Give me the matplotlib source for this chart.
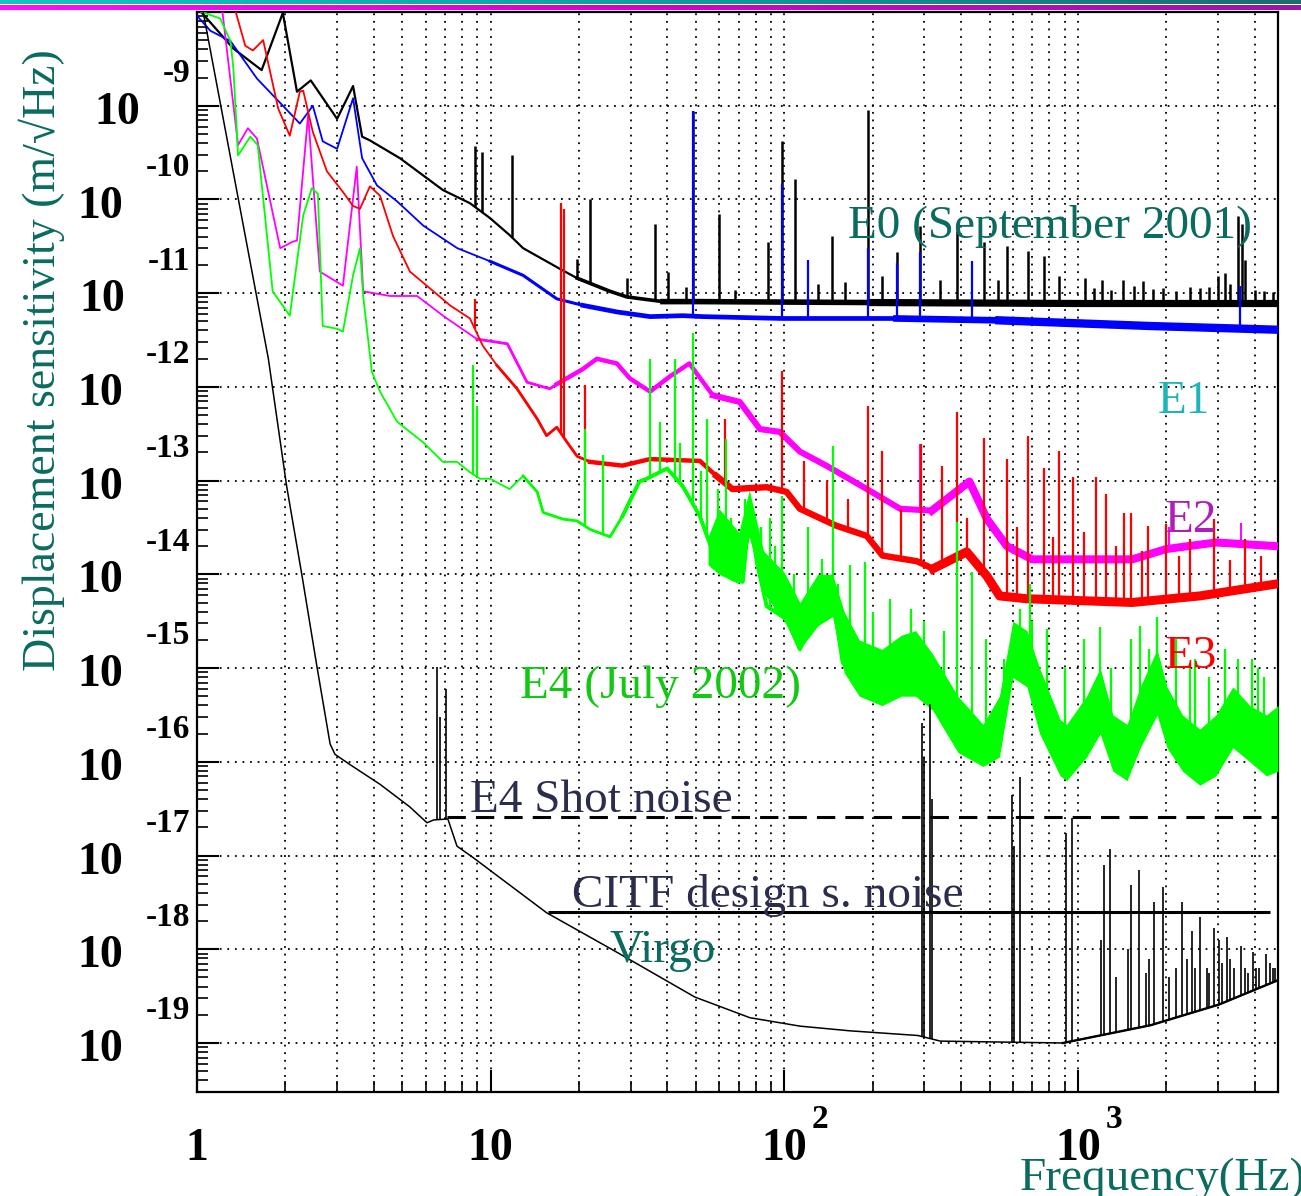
import numpy as np
import matplotlib.pyplot as plt
from matplotlib.colors import LinearSegmentedColormap
from matplotlib.ticker import LogLocator, NullFormatter

plt.rcParams['font.family'] = ['Liberation Serif', 'DejaVu Serif']

# frequencies in Hz, levels given as log10 of the displacement (m/sqrt(Hz))
virgo_f = [1.0, 1.75, 2.02, 2.28, 2.56, 2.84, 2.95, 3.32, 4.2, 5.3, 6.07, 6.4, 7.15, 7.68, 8.7,
           15.5, 26.5, 49.6, 76.3, 113, 167, 285, 340, 889, 1770, 3020, 4800]
virgo_lg = [-7.65, -11.70, -13.06, -14.02, -14.98, -15.81, -15.92, -16.03, -16.24, -16.48, -16.65,
            -16.62, -16.61, -16.90, -17.02, -17.61, -18.02, -18.51, -18.73, -18.82, -18.87, -18.92,
            -18.98, -19.0, -18.81, -18.59, -18.33]
virgo_spike_f = [6.56, 6.7, 7.05, 294, 300, 313, 318, 595, 604, 634, 910, 953, 1200, 1225, 1290,
                 1480, 1515, 1610, 1750, 1820, 1945, 2150, 2255, 2350, 2440, 2600, 2750, 2900,
                 3020, 3100, 3230, 3400, 3590, 3800, 3940, 4150, 4370, 4600, 1350, 1700, 2050,
                 2500, 2800, 3300, 3700, 4050, 4500, 4700]
virgo_spike_lg = [-14.99, -15.52, -15.22, -15.59, -15.95, -15.38, -16.4, -16.35, -16.9, -16.16,
                  -16.76, -16.60, -17.9, -17.10, -16.93, -18.0, -17.31, -17.15, -18.1, -17.50,
                  -17.34, -18.2, -17.50, -18.1, -17.81, -17.66, -18.2, -17.77, -17.90, -18.15,
                  -17.87, -18.2, -17.97, -18.25, -18.03, -18.2, -18.05, -18.2, -18.3, -18.25,
                  -18.3, -18.2, -18.25, -18.1, -18.2, -18.2, -18.15, -18.2]

e0_f = [1.0, 1.33, 1.66, 1.96, 2.19, 2.44, 3.0, 3.4, 3.65, 3.88, 4.91, 6.88, 8.5, 9.96, 11.6,
        12.9, 17.2, 19.7, 25.5, 29.1, 38.6, 51.6, 200, 1000, 4800]
e0_lg = [-7.95, -8.39, -8.62, -8.01, -8.85, -8.73, -9.14, -8.79, -9.33, -9.37, -9.56, -9.90,
         -10.04, -10.20, -10.38, -10.52, -10.74, -10.84, -10.98, -11.04, -11.09, -11.09, -11.10,
         -11.11, -11.11]
e0_spike_f = [8.85, 9.34, 11.8, 19.7, 21.8, 29.1, 36.3, 40.1, 46.3, 48.8, 59.9, 67.9, 87.9, 98.1,
              109, 130, 145, 161, 193, 215, 242, 290, 339, 387, 479, 534, 573, 675, 765, 861,
              1055, 1205, 1422, 1663, 2404, 2993, 3162, 3500, 3610, 3700,
              1130, 1300, 1550, 1800, 1950, 2150, 2600, 2800, 3300, 4000, 4300, 4600]
e0_spike_lg = [-9.43, -9.49, -9.53, -10.63, -9.99, -10.84, -10.26, -10.77, -10.93, -9.06, -10.15,
               -10.97, -10.45, -9.38, -9.78, -10.90, -10.39, -10.88, -9.05, -10.82, -10.56,
               -10.28, -10.86, -10.34, -10.45, -10.86, -10.50, -10.55, -10.60, -10.82, -10.84,
               -10.86, -10.86, -10.87, -10.93, -10.82, -10.79, -10.18, -10.26, -10.65,
               -10.95, -10.97, -10.92, -10.96, -10.94, -10.98, -10.95, -10.93, -10.90, -10.97,
               -10.98, -10.99]

e1_f = [1.0, 1.11, 1.30, 1.60, 2.24, 2.48, 2.68, 3.0, 3.40, 3.65, 4.1, 4.8, 5.9, 7.7, 9.96, 12.9,
        16.8, 20.6, 26.9, 34.9, 45.1, 52.8, 98.6, 241, 540, 1750, 4800]
e1_lg = [-8.04, -8.20, -8.31, -8.71, -9.19, -9.00, -9.38, -9.46, -8.92, -9.56, -9.85, -10.02,
         -10.28, -10.52, -10.66, -10.81, -11.06, -11.13, -11.20, -11.25, -11.24, -11.25, -11.27,
         -11.27, -11.29, -11.35, -11.39]
e1_spike_f = [48.8, 98.1, 120, 193, 242, 290, 435, 3550]
e1_spike_lg = [-9.06, -9.83, -10.65, -10.52, -10.68, -10.56, -10.66, -10.92]

e2_f = [1.2, 1.38, 1.49, 1.60, 1.92, 2.12, 2.19, 2.39, 2.62, 3.14, 3.50, 3.68, 4.54, 5.62, 6.88,
        8.98, 11.4, 13.3, 15.9, 16.8, 20.6, 23.0, 26.9, 29.8, 34.9, 40.7, 47.5, 57.1, 70.5, 82.6,
        96.5, 113, 139, 191, 248, 318, 427, 490, 573, 699, 1530, 2000, 2950, 4800]
e2_lg = [-7.8, -9.42, -9.24, -9.35, -10.52, -10.45, -10.44, -9.10, -10.77, -10.92, -9.65, -10.98,
         -11.03, -11.03, -11.24, -11.49, -11.54, -11.95, -12.02, -11.97, -11.81, -11.70, -11.75,
         -11.91, -12.05, -11.89, -11.75, -12.09, -12.16, -12.45, -12.48, -12.69, -12.84, -13.09,
         -13.30, -13.32, -13.01, -13.41, -13.70, -13.84, -13.84, -13.73, -13.66, -13.70]
e2_spike_f = [290, 2050, 3600]
e2_spike_lg = [-12.61, -13.5, -13.45]

e3_f = [1.3, 1.46, 1.55, 1.68, 1.89, 2.07, 2.24, 2.30, 2.48, 2.77, 3.14, 3.40, 3.59, 3.88, 4.20,
        4.65, 5.31, 6.22, 7.27, 8.5, 9.4, 10.5, 12.3, 14.4, 15.5, 16.8, 18.2, 19.7, 21.8, 28.1,
        34.9, 51.6, 58.7, 66.6, 87.1, 101.8, 113, 150, 191, 216, 283, 321, 418, 490, 541, 668,
        1530, 2600, 4800]
e3_lg = [-7.8, -8.36, -8.41, -8.30, -9.03, -9.32, -8.85, -8.84, -9.28, -9.70, -9.92, -10.07,
         -10.10, -9.86, -9.96, -10.39, -10.77, -10.95, -11.13, -11.27, -11.56, -11.77, -12.02,
         -12.34, -12.52, -12.43, -12.59, -12.74, -12.80, -12.84, -12.77, -12.79, -12.95, -13.09,
         -13.07, -13.12, -13.30, -13.48, -13.59, -13.80, -13.86, -13.94, -13.76, -14.02, -14.23,
         -14.26, -14.30, -14.23, -14.10]
e3_spike_f = [8.85, 17.3, 17.8, 20.9, 62.8, 98, 117, 193, 215, 292, 344, 387, 480, 573, 676, 765,
              861, 960, 1150, 1245, 1440, 1520, 1730, 2000, 2400, 2900, 3700,
              140, 165, 250, 420, 620, 820, 1050, 1350, 1650, 2200, 3300, 4200]
e3_spike_lg = [-11.06, -10.04, -10.1, -11.98, -12.34, -11.83, -12.79, -12.20, -12.68, -12.61,
               -12.84, -12.27, -12.55, -12.77, -12.52, -12.87, -12.68, -12.96, -12.96, -13.14,
               -13.35, -13.35, -13.48, -13.46, -13.62, -13.41, -13.62,
               -13.0, -13.2, -13.3, -13.4, -13.5, -13.6, -13.55, -13.7, -13.75, -13.8, -13.85,
               -13.8]

e4_f = [1.02, 1.20, 1.30, 1.33, 1.38, 1.52, 1.61, 1.81, 2.07, 2.30, 2.46, 2.58, 2.68, 3.0, 3.14,
        3.40, 3.59, 3.68, 3.94, 4.2, 4.8, 5.31, 5.88, 6.88, 7.68, 8.5, 9.2, 9.96, 11.6, 12.9,
        14.4, 15.1, 17.6, 19.7, 21.8, 25.5, 28.1, 32.1, 34.0, 39.9, 45.1, 51.6, 58.7, 66.6, 72.2,
        76.3, 80.6, 87.1, 101.8, 113, 129, 146, 158, 181, 216, 248, 282, 318, 387, 475, 541, 596,
        668, 740, 867, 915, 1070, 1190, 1315, 1470, 1630, 1860, 2010, 2270, 2600, 2950, 3370,
        3850, 4380, 4800]
e4_lg = [-7.99, -8.07, -8.31, -8.60, -9.53, -9.33, -9.42, -10.98, -11.24, -10.17, -9.88, -9.94,
         -11.35, -11.38, -11.41, -10.81, -10.52, -11.03, -11.84, -12.05, -12.37, -12.48, -12.59,
         -12.80, -12.80, -12.91, -12.98, -12.98, -13.09, -12.95, -13.12, -13.34, -13.41, -13.43,
         -13.52, -13.60, -13.38, -13.01, -12.98, -12.87, -13.06, -13.38, -13.87, -14.05, -14.08,
         -13.30, -13.87, -14.34, -14.48, -14.80, -14.40, -14.23, -14.94, -15.23, -15.30, -15.12,
         -15.12, -15.30, -15.76, -15.98, -15.83, -14.76, -14.94, -15.47, -16.01, -16.15, -15.83,
         -15.47, -16.01, -16.11, -15.65, -15.12, -15.65, -16.01, -16.11, -16.01, -15.65, -15.83,
         -16.01, -15.97]
# upper / lower edge of the dense E4 noise band above ~55 Hz
e4_band_f = [55, 60, 70, 76, 85, 100, 113, 130, 146, 160, 180, 215, 250, 280, 320, 390, 475, 540,
             600, 670, 740, 870, 915, 1070, 1190, 1315, 1470, 1630, 1860, 2010, 2270, 2600, 2950,
             3370, 3850, 4380, 4800]
e4_band_hi = [-13.6, -13.3, -13.55, -13.1, -13.75, -13.98, -14.3, -14.0, -14.0, -14.4,
              -14.7, -14.8, -14.65, -14.6, -14.85, -15.3, -15.6, -15.3, -14.5, -14.6,
              -15.0, -15.55, -15.6, -15.3, -15.0, -15.5, -15.6, -15.2, -14.8, -15.2,
              -15.5, -15.65, -15.5, -15.2, -15.4, -15.5, -15.4]
e4_band_lo = [-13.9, -14.0, -14.1, -13.6, -14.2, -14.5, -14.8, -14.55, -14.45, -15.05,
              -15.3, -15.4, -15.3, -15.3, -15.45, -15.9, -16.05, -15.95, -15.1, -15.2,
              -15.7, -16.15, -16.2, -15.95, -15.7, -16.1, -16.2, -15.85, -15.5, -15.85,
              -16.1, -16.25, -16.15, -15.85, -16.0, -16.15, -16.1]
e4_spike_f = [8.7, 9.0, 20.9, 24.1, 34.9, 37.7, 42.4, 48.8, 54.5, 83, 98.1, 146, 189, 387, 435,
              685, 1190, 1630, 1860, 3900,
              59.4, 63.5, 73.5, 89.5, 120, 134, 167, 229, 270, 485, 633, 785, 1050, 1510, 2150,
              2500, 3160, 4300, 44, 52, 66, 78, 93, 108, 152, 200, 300, 350, 560, 700, 900, 1300,
              1750, 2400, 2800, 3500, 4100]
e4_spike_lg = [-11.77, -12.2, -12.45, -12.73, -11.70, -12.37, -11.70, -11.43, -12.34, -13.5,
               -13.16, -12.63, -13.87, -13.44, -13.98, -14.10, -14.56, -14.55, -14.45, -14.90,
               -13.09, -12.56, -13.2, -13.4, -13.5, -13.84, -13.9, -14.26, -14.37, -14.69,
               -14.37, -14.58, -14.69, -14.69, -14.69, -14.9, -14.8, -15.1, -12.6, -12.9,
               -13.4, -13.5, -13.7, -14.0, -14.1, -14.4, -14.5, -14.6, -14.9, -14.5, -15.0,
               -15.0, -14.8, -15.0, -15.1, -14.9, -15.0]

# reference noise levels
shot_noise = 2.55e-17
shot_noise_f = (7.1, 4800)
citf_noise = 2.47e-18
citf_noise_f = (15.7, 4500)

y_exps = list(range(-9, -20, -1))
x_decades = [1, 10, 100, 1000]


def draw_curve(ax, f, lg, color, widths, z):
    # the traces get thicker (noisier) towards high frequency
    f = np.asarray(f)
    a = 10.0 ** np.asarray(lg)
    for f_from, lw in widths:
        k = max(np.searchsorted(f, f_from) - 1, 0)
        ax.plot(f[k:], a[k:], color=color, lw=lw, zorder=z)


def draw_spikes(ax, f, lg, sf, slg, color, lw, z):
    base = np.interp(np.log10(sf), np.log10(f), lg)
    ax.vlines(sf, 10.0 ** base, 10.0 ** np.asarray(slg), color=color, lw=lw, zorder=z)


fig = plt.figure(figsize=(13.01, 11.96), dpi=100)
ax = fig.add_axes([197 / 1301, 1 - 1092 / 1196, 1081 / 1301, 1080 / 1196])
ax.set_xscale('log')
ax.set_yscale('log')
ax.set_xlim(1, 4800)
ax.set_ylim(3e-20, 1e-8)

# slide header bars
for y0, h, cols in [(1 - 4 / 1196, 4 / 1196, ['#10c8c0', '#0aa0a0', '#1a6e6e']),
                    (1 - 10 / 1196, 5 / 1196, ['#ff10ff', '#d000d0', '#9818a8'])]:
    bar = fig.add_axes([0, y0, 1, h])
    bar.imshow(np.linspace(0, 1, 256)[None, :], aspect='auto',
               cmap=LinearSegmentedColormap.from_list('bar', cols))
    bar.set_axis_off()

draw_curve(ax, e0_f, e0_lg, 'black', [(1, 1.6), (20, 2.6), (40, 4.0), (300, 5.2)], 3)
draw_spikes(ax, e0_f, e0_lg, e0_spike_f, e0_spike_lg, 'black', 1.8, 3)
draw_curve(ax, e1_f, e1_lg, '#0000ff', [(1, 1.3), (12, 2.2), (25, 3.4), (300, 4.8), (1500, 6.0)], 4)
draw_spikes(ax, e1_f, e1_lg, e1_spike_f, e1_spike_lg, '#0000ff', 1.6, 4)
draw_curve(ax, e2_f, e2_lg, '#ff00ff', [(1, 1.3), (10, 2.0), (20, 3.2), (60, 4.4), (400, 5.8)], 5)
draw_spikes(ax, e2_f, e2_lg, e2_spike_f, e2_spike_lg, '#ff00ff', 1.4, 5)
draw_curve(ax, e3_f, e3_lg, '#ff0000', [(1, 1.3), (12, 2.0), (22, 3.2), (60, 4.6), (400, 6.5)], 6)
draw_spikes(ax, e3_f, e3_lg, e3_spike_f, e3_spike_lg, '#ff0000', 1.6, 6)
draw_curve(ax, e4_f, e4_lg, '#00ff00', [(1, 1.3), (14, 2.0), (30, 2.8)], 7)
ax.fill_between(e4_band_f, 10.0 ** np.asarray(e4_band_lo), 10.0 ** np.asarray(e4_band_hi),
                color='#00ff00', lw=0, zorder=7)
draw_spikes(ax, e4_f, e4_lg, e4_spike_f, e4_spike_lg, '#00ff00', 1.6, 7)
draw_curve(ax, virgo_f, virgo_lg, 'black', [(1, 1.1), (900, 1.7)], 8)
draw_spikes(ax, virgo_f, virgo_lg, virgo_spike_f, virgo_spike_lg, 'black', 1.2, 8)

ax.hlines(shot_noise, *shot_noise_f, color='black', lw=2.2, linestyles=(0, (6, 3.3)), zorder=9)
ax.hlines(citf_noise, *citf_noise_f, color='black', lw=2.2, zorder=9)

# frame, ticks and dotted grid in the ROOT style
for s in ax.spines.values():
    s.set_linewidth(1.6)
ax.xaxis.set_major_locator(LogLocator(base=10, numticks=20))
ax.xaxis.set_minor_locator(LogLocator(base=10, subs=np.arange(2, 10), numticks=40))
ax.yaxis.set_major_locator(LogLocator(base=10, numticks=30))
ax.yaxis.set_minor_locator(LogLocator(base=10, subs=np.arange(2, 10), numticks=60))
for axis in (ax.xaxis, ax.yaxis):
    axis.set_major_formatter(NullFormatter())
    axis.set_minor_formatter(NullFormatter())
ax.tick_params(which='major', direction='in', length=16, width=1.5, top=False, right=False)
ax.tick_params(which='minor', direction='in', length=8, width=1.2, top=False, right=False)
ax.set_axisbelow(True)
ax.grid(which='major', color='black', lw=1.3, ls=(0, (1, 3.2)))
ax.grid(which='minor', axis='x', color='black', lw=1.3, ls=(0, (1, 3.2)))

# tick labels drawn as "10" plus a raised exponent
for e in y_exps:
    t = ax.annotate(f'-{abs(e)}', xy=(0, 10.0 ** e), xycoords=('axes fraction', 'data'),
                    xytext=(-5, 17), textcoords='offset points', ha='right', va='baseline',
                    fontsize=24, fontweight='bold', annotation_clip=False)
    ax.annotate('10', xy=(0, 0), xycoords=t, xytext=(-16, -25), textcoords='offset points',
                ha='right', va='baseline', fontsize=33, fontweight='bold')
for d in x_decades:
    base_txt = '1' if d == 1 else '10'
    ax.annotate(base_txt, xy=(d, 0), xycoords=('data', 'axes fraction'), xytext=(0, -49),
                textcoords='offset points', ha='center', va='baseline',
                fontsize=33, fontweight='bold', annotation_clip=False)
    if d >= 100:
        ax.annotate(str(int(np.log10(d))), xy=(d, 0), xycoords=('data', 'axes fraction'),
                    xytext=(20, -26), textcoords='offset points', ha='left', va='baseline',
                    fontsize=24, fontweight='bold', annotation_clip=False)

teal = '#0b6b5f'
navy = '#2b2d4f'
labels = [('E0 (September 2001)', 0.6022, 0.7907, teal),
          ('E1', 0.889, 0.6287, '#1fb4b8'),
          ('E2', 0.8955, 0.5185, '#b01eb8'),
          ('E3', 0.8955, 0.3926, '#ff0000'),
          ('E4 (July 2002)', 0.2988, 0.3648, '#12c812'),
          ('E4 Shot noise', 0.2525, 0.2593, navy),
          ('CITF design s. noise', 0.3469, 0.1713, navy),
          ('Virgo', 0.382, 0.1204, teal)]
for txt, x, y, c in labels:
    ax.text(x, y, txt, transform=ax.transAxes, color=c, fontsize=34, ha='left',
            va='baseline', zorder=12)

fig.text(1020 / 1301, 1 - 1190 / 1196, 'Frequency(Hz)', color=teal, fontsize=34,
         ha='left', va='baseline')
fig.text(42 / 1301, 1 - 360 / 1196, 'Displacement sensitivity (m/\u221aHz)', color=teal,
         fontsize=33, rotation=90, ha='center', va='center')

fig.savefig('out.png', dpi=100)
